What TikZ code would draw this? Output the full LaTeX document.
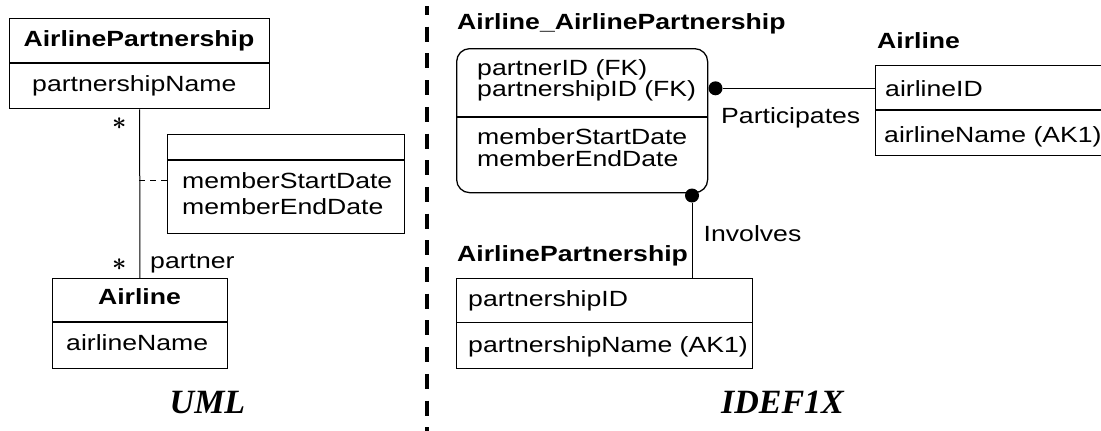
\documentclass[tikz,border=0pt]{standalone}
\usepackage{fontspec}
\usepackage{graphicx}
\setmainfont{Liberation Sans}
\newfontfamily\headfont{Liberation Serif}
\newcommand\wtx[1]{\scalebox{1.21}[1]{#1}}
\begin{document}
\begin{tikzpicture}[x=1pt,y=-1pt,
  txt/.style={inner sep=0pt, anchor=base west, font=\fontsize{22}{24}\selectfont},
  hdr/.style={txt, font=\fontsize{22}{24}\selectfont\bfseries},
  chdr/.style={hdr, anchor=base},
  ttl/.style={inner sep=0pt, anchor=base, font=\fontsize{34}{36}\selectfont\headfont\bfseries\itshape},
  cls/.style={draw, line width=1.3pt, inner sep=0pt, anchor=north west},
  conn/.style={line width=1pt},
  dot/.style={circle, fill=black, inner sep=0pt, minimum size=14pt},
  mult/.style={inner sep=0pt, font=\fontsize{36}{36}\selectfont\boldmath}
]
\clip (0,0) rectangle (1101,431);

% ---------------- UML ----------------
\node[cls, minimum width=260, minimum height=90] (umlPart) at (9,18) {};
\draw[line width=1.3pt] (umlPart.west |- 0,63) -- (umlPart.east |- 0,63);
\node[chdr] (umlPartName) at (139,46) {\wtx{AirlinePartnership}};
\node[txt] (umlPartAttr) at (32,91) {\wtx{partnershipName}};

\node[cls, minimum width=174.5, minimum height=90] (umlAir) at (52,278) {};
\draw[line width=1.3pt] (umlAir.west |- 0,322) -- (umlAir.east |- 0,322);
\node[chdr] (umlAirName) at (139.5,304) {\wtx{Airline}};
\node[txt] (umlAirAttr) at (66,350) {\wtx{airlineName}};

\node[cls, minimum width=237, minimum height=98.5] (umlAssoc) at (167,134) {};
\draw[line width=1.3pt] (umlAssoc.west |- 0,160) -- (umlAssoc.east |- 0,160);
\node[txt] (umlStart) at (182,188) {\wtx{memberStartDate}};
\node[txt] (umlEnd) at (182,214) {\wtx{memberEndDate}};

\draw[conn] (umlPart.south) -- (umlAir.north);
\coordinate (assocPt) at (139,180);
\draw[conn, dash pattern=on 6pt off 5pt] (assocPt) -- (umlAssoc.west |- assocPt);

\node[mult] (multTop) at (119.3,124) {$\ast$};
\node[mult] (multBot) at (119.3,265) {$\ast$};
\node[txt] (roleName) at (150,268) {\wtx{partner}};

\node[ttl] (umlTitle) at (207.5,413) {UML};

% ---------------- separator ----------------
\draw[line width=4pt, dash pattern=on 15pt off 11.7pt, dash phase=6pt] (427,6) -- (427,431);

% ---------------- IDEF1X ----------------
\node[hdr] (assocName) at (457,30) {\wtx{Airline\_AirlinePartnership}};
\node[cls, rounded corners=13pt, minimum width=251, minimum height=144] (assocBox) at (456,48) {};
\draw[line width=1.3pt] (assocBox.west |- 0,117) -- (assocBox.east |- 0,117);
\node[txt] (fk1) at (477,75) {\wtx{partnerID (FK)}};
\node[txt] (fk2) at (477,96.5) {\wtx{partnershipID (FK)}};
\node[txt] (mStart) at (477,144) {\wtx{memberStartDate}};
\node[txt] (mEnd) at (477,166) {\wtx{memberEndDate}};

\node[hdr] (airName) at (877,48) {\wtx{Airline}};
\node[cls, minimum width=260, minimum height=90] (airBox) at (875,65) {};
\draw[line width=1.3pt] (airBox.west |- 0,110) -- (airBox.east |- 0,110);
\node[txt] (airKey) at (885,96) {\wtx{airlineID}};
\node[txt] (airAttr) at (884,142) {\wtx{airlineName (AK1)}};

\node[hdr] (partName) at (457,261) {\wtx{AirlinePartnership}};
\node[cls, minimum width=296, minimum height=89.5] (partBox) at (456,278) {};
\draw[line width=1.3pt] (partBox.west |- 0,322.3) -- (partBox.east |- 0,322.3);
\node[txt] (partKey) at (468,306.5) {\wtx{partnershipID}};
\node[txt] (partAttr) at (468,352.5) {\wtx{partnershipName (AK1)}};

\node[dot] (dotAir) at (715.5,88.3) {};
\draw[conn] (dotAir) -- (airBox.west |- dotAir);
\node[txt] (relPart) at (721,123) {\wtx{Participates}};

\node[dot] (dotPart) at (692,195.5) {};
\draw[conn] (dotPart) -- (partBox.north -| dotPart);
\node[txt] (relInv) at (703.5,241) {\wtx{Involves}};

\node[ttl] (idefTitle) at (782.5,413) {IDEF1X};
\end{tikzpicture}
\end{document}
